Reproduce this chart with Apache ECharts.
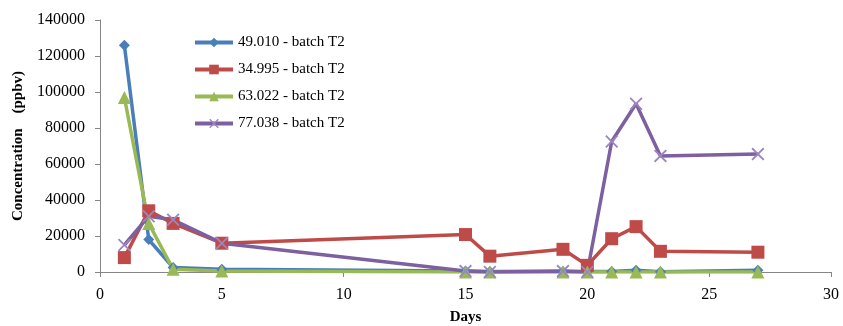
<!DOCTYPE html>
<html>
<head>
<meta charset="utf-8">
<script src="https://cdn.jsdelivr.net/npm/echarts@6/dist/echarts.min.js"></script>
<style>
  html, body { margin: 0; padding: 0; background: #fff; }
  #chart { width: 843px; height: 326px; }
</style>
</head>
<body>
<div id="chart"></div>
<script>
// Sampling days and measured concentrations (ppbv)
const days = [1, 2, 3, 5, 15, 16, 19, 20, 21, 22, 23, 27];
const s49 = [126000, 18000, 2500, 1500, 500, 300, 300, 300, 300, 1000, 200, 1000];
const s34 = [8000, 34000, 27000, 16000, 20800, 8800, 12600, 3700, 18500, 25200, 11500, 11000];
const s63 = [97000, 27000, 1500, 500, 0, 0, 0, 0, 0, 0, 0, 0];
const s77 = [15000, 31000, 29000, 16000, 500, 0, 500, 0, 72500, 93500, 64500, 65500];
const seriesNames = ['49.010 - batch T2', '34.995 - batch T2', '63.022 - batch T2', '77.038 - batch T2'];
const xTicks = [0, 5, 10, 15, 20, 25, 30];
const yTicks = [0, 20000, 40000, 60000, 80000, 100000, 120000, 140000];

const pairs = arr => days.map((d, i) => [d, arr[i]]);
const serif = '"Liberation Serif", "Times New Roman", serif';
const crossPath = 'path://M0,1L1,0L5,4L9,0L10,1L6,5L10,9L9,10L5,6L1,10L0,9L4,5Z';

function lineSeries(name, data, color, symbol, size, markerColor) {
  return {
    name: name,
    type: 'line',
    data: pairs(data),
    symbol: symbol,
    symbolSize: size,
    showAllSymbol: true,
    lineStyle: { color: color, width: 3.5 },
    itemStyle: { color: markerColor || color },
    emphasis: { disabled: true },
    z: 2
  };
}

const chart = echarts.init(document.getElementById('chart'), null, { renderer: 'canvas' });
chart.setOption({
  animation: false,
  backgroundColor: '#ffffff',
  grid: { left: 100, right: 12, top: 20, bottom: 54, containLabel: false, outerBoundsMode: 'none' },
  legend: {
    orient: 'vertical',
    left: 188,
    top: 30,
    itemWidth: 38,
    itemHeight: 12,
    itemGap: 12,
    lineStyle: { width: 4 },
    textStyle: { fontFamily: serif, fontSize: 15, color: '#000' },
    data: seriesNames
  },
  xAxis: {
    type: 'value',
    min: xTicks[0],
    max: xTicks[xTicks.length - 1],
    interval: 5,
    name: 'Days',
    nameLocation: 'middle',
    nameGap: 38,
    nameTextStyle: { fontFamily: serif, fontSize: 15, fontWeight: 'bold', color: '#000' },
    axisLine: { lineStyle: { color: '#868686', width: 1 } },
    axisTick: { show: true, inside: false, length: 5, lineStyle: { color: '#868686' } },
    axisLabel: { fontFamily: serif, fontSize: 16, color: '#000', margin: 15 },
    splitLine: { show: false }
  },
  yAxis: {
    type: 'value',
    min: yTicks[0],
    max: yTicks[yTicks.length - 1],
    interval: 20000,
    name: 'Concentration    (ppbv)',
    nameLocation: 'middle',
    nameGap: 74,
    nameTextStyle: { fontFamily: serif, fontSize: 15, fontWeight: 'bold', color: '#000' },
    axisLine: { show: true, lineStyle: { color: '#868686', width: 1 } },
    axisTick: { show: true, inside: false, length: 5, lineStyle: { color: '#868686' } },
    axisLabel: { fontFamily: serif, fontSize: 16, color: '#000', margin: 15, formatter: v => String(v) },
    splitLine: { show: false }
  },
  series: [
    lineSeries(seriesNames[0], s49, '#4A7EBB', 'diamond', 11),
    lineSeries(seriesNames[1], s34, '#BE4B48', 'rect', 13),
    lineSeries(seriesNames[2], s63, '#98B954', 'triangle', 13),
    lineSeries(seriesNames[3], s77, '#7D60A0', crossPath, 13, '#9C86BF')
  ]
});
</script>
</body>
</html>
